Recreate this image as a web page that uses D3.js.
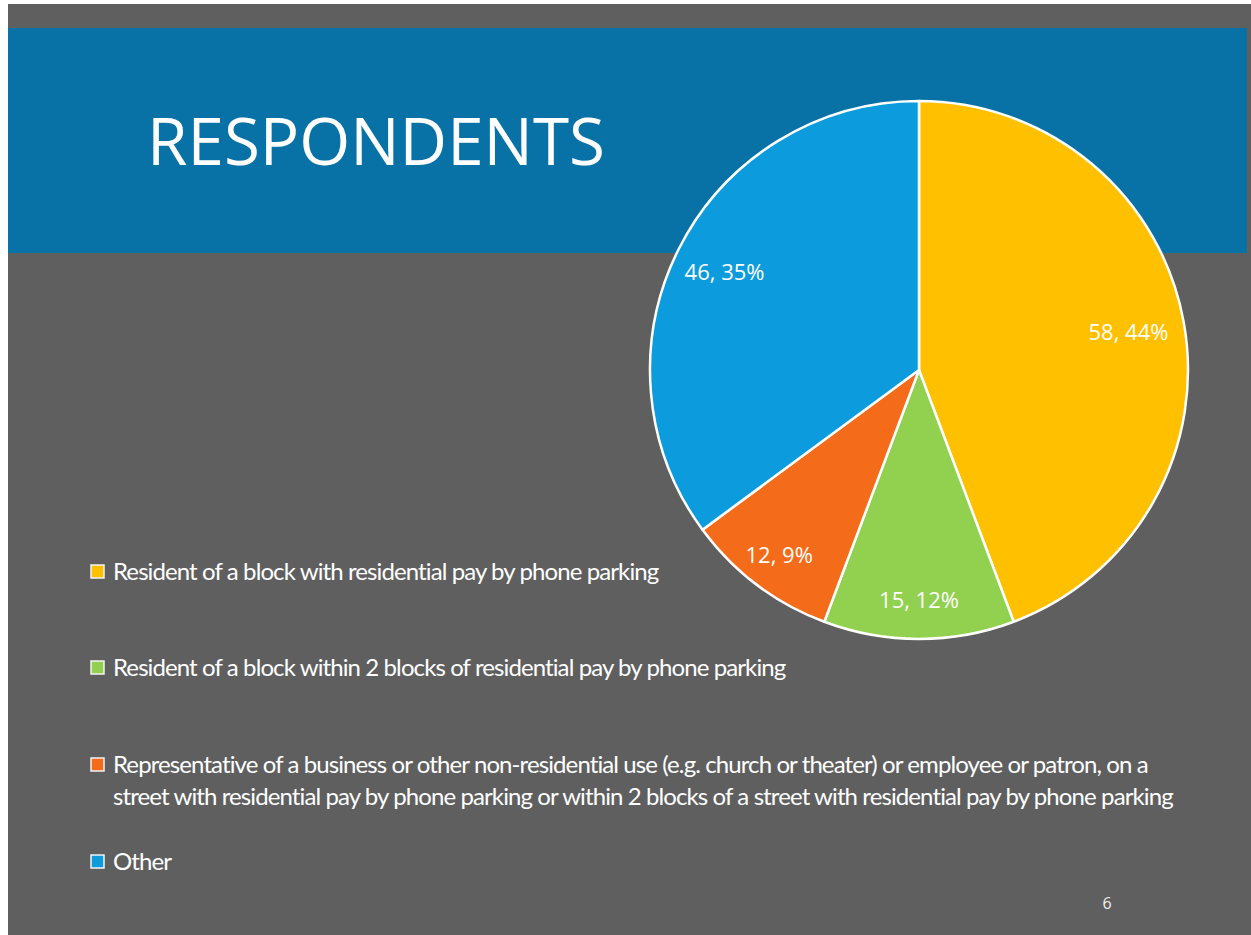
<!DOCTYPE html>
<html>
<head>
<meta charset="utf-8">
<script src="https://cdn.jsdelivr.net/npm/d3@7"></script>
<style>
  body { margin: 0; background: #ffffff; }
  svg { display: block; }
</style>
</head>
<body>
<div id="chart"></div>
<script>
// data
var categories = [
    "Resident of a block with residential pay by phone parking",
    "Resident of a block within 2 blocks of residential pay by phone parking",
    "Representative of a business or other non-residential use (e.g. church or theater) or employee or patron, on a|street with residential pay by phone parking or within 2 blocks of a street with residential pay by phone parking",
    "Other"
];
var counts = [58, 15, 12, 46];
var percents = ["44%", "12%", "9%", "35%"];
var colors = ["#ffc000", "#92d050", "#f46b1a", "#0c9bdc"];

var W = 1251, H = 935;

var svg = d3.select("#chart").append("svg")
    .attr("width", W)
    .attr("height", H);

// slide background
svg.append("rect")
    .attr("x", 8).attr("y", 4)
    .attr("width", W - 8).attr("height", H - 4)
    .attr("fill", "#5f5f5f");

// title band
svg.append("rect")
    .attr("x", 8).attr("y", 28)
    .attr("width", W - 12).attr("height", 225)
    .attr("fill", "#0872a6");

svg.append("text")
    .attr("x", 147)
    .attr("y", 165)
    .attr("fill", "#ffffff")
    .attr("font-family", "'Open Sans', sans-serif")
    .attr("font-size", 66)
    .attr("textLength", 458)
    .attr("lengthAdjust", "spacingAndGlyphs")
    .text("RESPONDENTS");

// pie
var radius = 269;
var g = svg.append("g")
    .attr("transform", "translate(919,370)");

var pie = d3.pie().sort(null).value(function(d){ return d; });
var arcs = pie(counts);

var arc = d3.arc().innerRadius(0).outerRadius(radius);

g.selectAll("path.slice")
    .data(arcs)
    .enter().append("path")
    .attr("class", "slice")
    .attr("d", arc)
    .attr("fill", function(d, i){ return colors[i]; })
    .attr("stroke", "#ffffff")
    .attr("stroke-width", 2.5)
    .attr("stroke-linejoin", "round");

// small slices get their labels pushed further out
function labelPos(d){
    var span = (d.endAngle - d.startAngle) / Math.PI;
    var r = radius * (0.78 + 0.1 * (1 - span));
    var a = (d.startAngle + d.endAngle) / 2;
    return [Math.sin(a) * r, -Math.cos(a) * r];
}

g.selectAll("text.lbl")
    .data(arcs)
    .enter().append("text")
    .attr("class", "lbl")
    .attr("x", function(d){ return labelPos(d)[0]; })
    .attr("y", function(d){ return labelPos(d)[1]; })
    .attr("dy", "0.35em")
    .attr("text-anchor", "middle")
    .attr("fill", "#ffffff")
    .attr("font-family", "'Open Sans', sans-serif")
    .attr("font-size", 22)
    .text(function(d, i){ return counts[i] + ", " + percents[i]; });

// legend
var legendY = [572, 668, 765, 862];
var legend = svg.append("g");

categories.forEach(function(c, i){
    var y = legendY[i];
    legend.append("rect")
        .attr("x", 91).attr("y", y - 7)
        .attr("width", 13).attr("height", 13)
        .attr("fill", colors[i])
        .attr("stroke", "#f4f4f4")
        .attr("stroke-width", 1.5);

    var lines = c.split("|");
    lines.forEach(function(line, j){
        legend.append("text")
            .attr("x", 113)
            .attr("y", y + 32 * j)
            .attr("dy", "0.35em")
            .attr("fill", "#ffffff")
            .attr("font-family", "Lato, sans-serif")
            .attr("font-size", 24)
            .attr("letter-spacing", -0.9)
            .text(line);
    });
});

// page number
svg.append("text")
    .attr("x", 1107)
    .attr("y", 909)
    .attr("text-anchor", "middle")
    .attr("fill", "#f0f0f0")
    .attr("font-family", "'Open Sans', sans-serif")
    .attr("font-size", 16)
    .text("6");
</script>
</body>
</html>
